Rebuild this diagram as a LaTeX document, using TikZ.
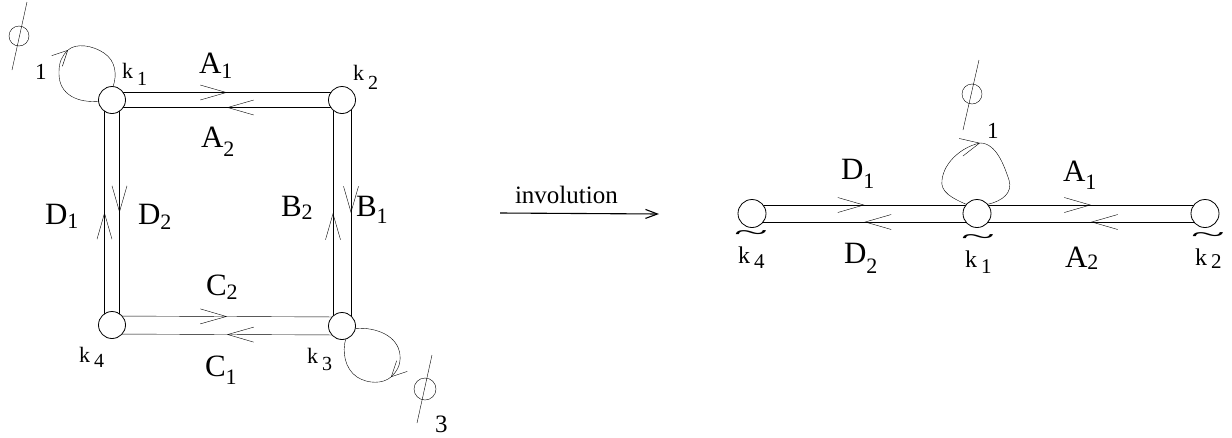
\documentclass[tikz,border=0pt]{standalone}
\usepackage{fontspec}
\usepackage{graphicx}
\setmainfont{Liberation Serif}
\usetikzlibrary{calc,arrows.meta,decorations.markings,backgrounds}
\newcommand\mainsz{\fontsize{31}{31}\selectfont}
\newcommand\subsz{\fontsize{22}{22}\selectfont}
\newcommand\biglab[3]{{\mainsz #1\raisebox{-#3}{\subsz #2}}}
\newcommand\klab[2]{{\fontsize{22}{22}\selectfont k\kern4pt\raisebox{-#2}{\fontsize{20}{20}\selectfont #1}}}
\newcommand\ktlab[2]{{\fontsize{24}{24}\selectfont\makebox[0pt][l]{\kern-4pt\raisebox{23pt}{\scalebox{2.6}[1.0]{\textasciitilde}}}k\kern4pt\raisebox{-#2}{\fontsize{21}{21}\selectfont #1}}}
\newcommand\dedge[3]{%
  \draw[midarrow] ($(#1)!#3!90:(#2)$) -- ($(#2)!#3!-90:(#1)$);
  \draw[midarrow] ($(#2)!#3!90:(#1)$) -- ($(#1)!#3!-90:(#2)$);
}
\begin{document}
\begin{tikzpicture}[x=1pt,y=-1pt,line width=0.8pt,
  >={Straight Barb[length=26pt,width=15pt]},
  vtx/.style={circle,draw,fill=white,minimum size=27pt,inner sep=0pt},
  vtxr/.style={vtx,minimum size=28pt},
  txt/.style={anchor=base west,inner sep=0pt,outer sep=0pt},
  midarrow/.style={postaction={decorate},decoration={markings,mark=at position 0.5 with {\arrow{>}}}},
  looptip/.style={-{Straight Barb[length=15pt,width=15pt]}},
  looptipb/.style={-{Straight Barb[length=19pt,width=18pt]}}]
\useasboundingbox (0,0) rectangle (1232,437);

% left square
\node[vtx] (k1) at (112,100) {};
\node[vtx] (k2) at (342,100) {};
\node[vtx] (k3) at (342,326) {};
\node[vtx] (k4) at (112,325) {};
% right graph
\node[vtxr] (t4) at (752,213.5) {};
\node[vtxr] (t1) at (977,213.5) {};
\node[vtxr] (t2) at (1205,213.5) {};

\begin{pgfonlayer}{background}
\dedge{k1}{k2}{7.5pt}
\dedge{k1}{k4}{7.5pt}
\dedge{k2}{k3}{9pt}
\dedge{k4}{k3}{9pt}
\dedge{t4}{t1}{8.5pt}
\dedge{t1}{t2}{8.5pt}
\end{pgfonlayer}

% loops
\coordinate (l1) at (68,50);
\draw[looptip] (k1.185) .. controls (80,103) and (58,96) .. (59,72) .. controls (59,62) and (62,56) .. (l1);
\draw (l1) .. controls (76,43) and (92,45) .. (104,53) .. controls (116,61) and (117,75) .. (k1.85);
\coordinate (l3) at (391,377);
\draw[looptip] (k3.-10) .. controls (375,327) and (398,335) .. (400,355) .. controls (401,366) and (396,372) .. (l3);
\draw (l3) .. controls (383,384) and (368,384) .. (357,377) .. controls (345,369) and (342,352) .. (k3.-75);
\coordinate (lr) at (980,143);
\draw[looptipb] (t1.140) .. controls (952,198) and (940,192) .. (942,180) .. controls (944,162) and (962,147) .. (lr);
\draw (lr) .. controls (996,143) and (1004,165) .. (1009,180) .. controls (1013,193) and (1002,201) .. (t1.40);

% phi symbols
\draw (19,36) circle[radius=10];
\draw (27,2) -- (12,70);
\draw (425,389) circle[radius=11];
\draw (432,355) -- (417,423);
\draw (972,94) circle[radius=10];
\draw (979,60) -- (963,130);

% loop labels
\node[txt,font=\fontsize{23}{23}\selectfont] (n1) at (35,79) {1};
\node[txt,font=\fontsize{25}{25}\selectfont] (n3) at (435,432) {3};
\node[txt,font=\fontsize{23}{23}\selectfont] (n1r) at (987,138) {1};

% vertex labels
\node[txt] (lk1) at (122,78) {\klab{1}{7pt}};
\node[txt] (lk2) at (353,80) {\klab{2}{9pt}};
\node[txt] (lk4) at (79,362) {\klab{4}{5pt}};
\node[txt] (lk3) at (307,363) {\klab{3}{7pt}};
\node[txt] (lt4) at (738,263) {\ktlab{4}{5pt}};
\node[txt] (lt1) at (965,267) {\ktlab{1}{6pt}};
\node[txt] (lt2) at (1195,265) {\ktlab{2}{3pt}};

% edge labels left
\node[txt] (lA1) at (199,73) {\biglab{A}{1}{5pt}};
\node[txt] (lA2) at (201,147) {\biglab{A}{2}{9pt}};
\node[txt] (lD1) at (45,224) {\biglab{D}{1}{4pt}};
\node[txt] (lD2) at (138,224) {\biglab{D}{2}{5pt}};
\node[txt] (lB2) at (281,216) {\biglab{B}{2}{3pt}};
\node[txt] (lB1) at (356,216) {\biglab{B}{1}{7pt}};
\node[txt] (lC2) at (206,295) {\biglab{C}{2}{4pt}};
\node[txt] (lC1) at (205,376) {\biglab{C}{1}{8pt}};
% edge labels right
\node[txt] (rD1) at (841,179) {\biglab{D}{1}{9pt}};
\node[txt] (rD2) at (844,263) {\biglab{D}{2}{10pt}};
\node[txt] (rA1) at (1063,181) {\biglab{A}{1}{8pt}};
\node[txt] (rA2) at (1065,267) {\biglab{A}{2}{2pt}};

% involution arrow
\coordinate (invs) at (500,213);
\coordinate (inve) at (659,214);
\draw[-{Straight Barb[length=12pt,width=9pt]},line width=1.1pt] (invs) -- (inve);
\node[txt,font=\fontsize{25}{25}\selectfont] (invl) at (515,203) {involution};
\end{tikzpicture}
\end{document}
